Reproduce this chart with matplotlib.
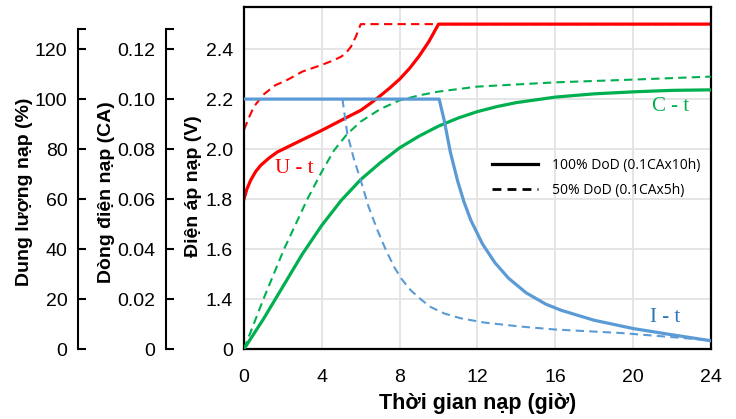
#!/usr/bin/env python
# coding: utf-8

"""
Charging curves: voltage, current and capacity vs time
"""

import numpy as np
import matplotlib
matplotlib.use("Agg")
import matplotlib.pyplot as plt

# voltage U-t (V)
t_u_full = [0, 0.15, 0.34, 0.6, 0.86, 1.3, 1.71, 2.57, 4, 5.14, 6, 6.5,
            7, 7.5, 8, 8.5, 9, 9.5, 10, 24]
u_full = [1.80, 1.84, 1.875, 1.91, 1.935, 1.965, 1.988, 2.021, 2.075, 2.121,
          2.155, 2.183, 2.213, 2.245, 2.28, 2.322, 2.372, 2.43, 2.50, 2.50]
t_u_half = [0, 0.25, 0.51, 1.03, 1.6, 2.23, 3, 4, 4.6, 5, 5.25, 5.5, 5.75,
            6, 24]
u_half = [2.077, 2.125, 2.17, 2.22, 2.255, 2.277, 2.31, 2.337, 2.355, 2.37,
          2.385, 2.41, 2.45, 2.50, 2.50]

# current I-t (CA)
t_i_full = [0, 10.03, 10.29, 10.6, 10.97, 11.3, 11.66, 12.26, 12.9, 13.6,
            14.5, 15.5, 16.3, 18, 20, 22, 24]
i_full = [0.100, 0.100, 0.0915, 0.079, 0.0675, 0.059, 0.0515, 0.042,
          0.0345, 0.0283, 0.0225, 0.018, 0.0155, 0.0115, 0.0082, 0.0057,
          0.0033]
t_i_half = [5.06, 5.31, 5.65, 6.0, 6.4, 6.86, 7.3, 7.72, 8.1, 8.57, 9.1,
            9.6, 10.3, 11.14, 12.34, 14.2, 16, 19.4, 24]
i_half = [0.100, 0.0861, 0.076, 0.0675, 0.057, 0.0475, 0.0395, 0.0328,
          0.028, 0.0235, 0.0198, 0.0168, 0.0142, 0.0123, 0.0106, 0.009,
          0.0078, 0.0064, 0.0035]

# capacity C-t (%)
t_c_full = [0, 1, 2, 3, 4, 5, 6, 7, 8, 9, 10, 11, 12, 13, 14, 16, 18,
            20, 22, 24]
c_full = [0, 12, 25, 38, 49.5, 59.5, 67.8, 74.5, 80.5, 85.2, 89.2, 92.4,
          95.0, 97.0, 98.6, 100.8, 102.1, 102.9, 103.5, 103.7]
t_c_half = [0, 0.5, 1, 2.06, 3.26, 4.0, 4.63, 5.3, 6, 7, 8, 9, 10, 12, 16,
            20, 24]
c_half = [0, 10, 20, 40, 60, 71, 79.5, 86, 91, 96, 99.5, 101.5, 103, 105,
          106.7, 107.8, 109.0]

x_ticks = [0, 4, 8, 12, 16, 20, 24]
v_ticks = [1.2, 1.4, 1.6, 1.8, 2.0, 2.2, 2.4]
v_labels = ["0", "1.4", "1.6", "1.8", "2.0", "2.2", "2.4"]
pct_ticks = [0, 20, 40, 60, 80, 100, 120]
ca_ticks = [0, 0.02, 0.04, 0.06, 0.08, 0.10, 0.12]
ca_labels = ["0", "0.02", "0.04", "0.06", "0.08", "0.10", "0.12"]


def main():
    plt.rcParams['font.family'] = "Liberation Sans"
    plt.rcParams['xtick.labelsize'] = 14
    plt.rcParams['ytick.labelsize'] = 14

    red = "#ff0000"
    green = "#00b050"
    blue = "#5b9bd5"
    dash = (0, (4, 2.5))

    fig = plt.figure(figsize=(7.36, 4.19), dpi=100)
    ax = fig.add_axes([0.3315, 0.167, 0.6345, 0.816])

    v_lo, v_hi = 1.2, 2.568
    ax.set_xlim(0, 24)
    ax.set_ylim(v_lo, v_hi)

    # twin axes sharing the vertical scale (0.2 V <-> 20 % <-> 0.02 CA)
    ax_pct = ax.twinx()
    ax_pct.set_ylim(0, (v_hi - v_lo) * 100)
    ax_ca = ax.twinx()
    ax_ca.set_ylim(0, (v_hi - v_lo) * 0.1)

    for a in (ax_pct, ax_ca):
        for s in ("top", "bottom", "right"):
            a.spines[s].set_visible(False)
        a.spines["left"].set_visible(True)
        a.spines["left"].set_linewidth(1.5)
        a.yaxis.set_label_position("left")
        a.yaxis.set_ticks_position("left")

    ax_pct.spines["left"].set_position(("axes", -0.3555))
    ax_pct.spines["left"].set_bounds(0, 128)
    ax_pct.set_yticks(pct_ticks)
    ax_pct.set_yticks([128], minor=True)
    ax_pct.tick_params(axis="y", which="both", direction="in", length=6,
                       width=1.5, pad=7.5)
    ax_pct.set_ylabel("Dung lượng nạp (%)", fontsize=14, fontweight="bold")
    ax_pct.yaxis.set_label_coords(-0.452, 0.46)

    ax_ca.spines["left"].set_position(("axes", -0.167))
    ax_ca.spines["left"].set_bounds(0, 0.128)
    ax_ca.set_yticks(ca_ticks)
    ax_ca.set_yticklabels(ca_labels)
    ax_ca.set_yticks([0.128], minor=True)
    ax_ca.tick_params(axis="y", which="both", direction="in", length=6,
                      width=1.5, pad=7.5)
    ax_ca.set_ylabel("Dòng điện nạp (CA)", fontsize=14, fontweight="bold")
    ax_ca.yaxis.set_label_coords(-0.276, 0.46)

    # main axes
    ax.set_zorder(3)
    ax.patch.set_visible(False)
    ax.set_xticks(x_ticks)
    ax.set_yticks(v_ticks)
    ax.set_yticklabels(v_labels)
    ax.tick_params(axis="y", length=0, pad=8)
    ax.tick_params(axis="x", length=0, pad=14.5)
    ax.grid(True, color="#e3e3e3", lw=1.3)
    for s in ax.spines.values():
        s.set_linewidth(1.6)
    ax.set_ylabel("Điện áp nạp (V)", fontsize=14, fontweight="bold")
    ax.yaxis.set_label_coords(-0.09, 0.477)
    ax.set_xlabel("Thời gian nạp (giờ)", fontsize=15.5, fontweight="bold")
    ax.xaxis.set_label_coords(0.5, -0.13)

    # curves
    ax.plot(t_u_half, u_half, color=red, lw=1.5, linestyle=dash)
    ax.plot(t_u_full, u_full, color=red, lw=2.3)

    ax_c = ax.twinx()
    ax_c.set_ylim(0, (v_hi - v_lo) * 100)
    ax_c.axis("off")
    ax_i = ax.twinx()
    ax_i.set_ylim(0, (v_hi - v_lo) * 0.1)
    ax_i.axis("off")
    ax_c.plot(t_c_half, c_half, color=green, lw=1.5, linestyle=dash)
    ax_c.plot(t_c_full, c_full, color=green, lw=2.3)
    ax_i.plot(t_i_half, i_half, color=blue, lw=1.5, linestyle=dash)
    ax_i.plot(t_i_full, i_full, color=blue, lw=2.3)

    serif = "Liberation Serif"
    ax_i.text(2.57, 1.924, "U - t", color=red, fontsize=15, family=serif,
              ha="center", va="center", transform=ax.transData)
    ax_i.text(21.9, 2.17, "C - t", color=green, fontsize=15, family=serif,
              ha="center", va="center", transform=ax.transData)
    ax_i.text(21.65, 1.325, "I - t", color="#2e75b6", fontsize=15,
              family=serif, ha="center", va="center", transform=ax.transData)

    # legend
    h1, = ax.plot([], [], color="black", lw=2.3)
    h2, = ax.plot([], [], color="black", lw=2.0, linestyle=(0, (3.2, 2.2)))
    ax_i.legend([h1, h2], ["100% DoD (0.1CAx10h)", "50% DoD (0.1CAx5h)"],
                loc="upper left", bbox_to_anchor=(0.531, 0.56),
                frameon=False, handlelength=3.3, handletextpad=1.0,
                labelspacing=0.72, borderpad=0, borderaxespad=0,
                prop={"family": "Open Sans", "size": 10})

    fig.savefig("out.png", dpi=100)


if __name__ == "__main__":
    main()
